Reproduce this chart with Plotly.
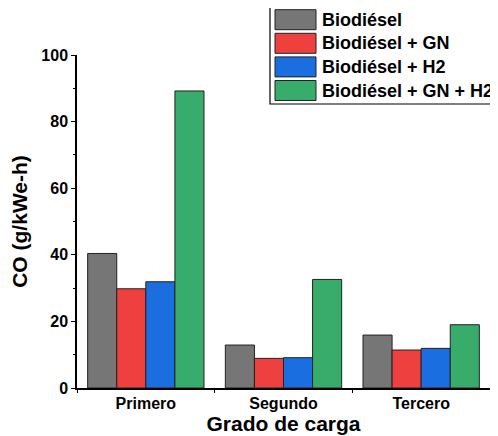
import plotly.graph_objects as go

categories = ["Primero", "Segundo", "Tercero"]
series_names = ["Biodiésel", "Biodiésel + GN", "Biodiésel + H2", "Biodiésel + GN + H2"]
biodiesel = [40.4, 12.9, 15.9]
biodiesel_gn = [29.8, 8.9, 11.4]
biodiesel_h2 = [31.9, 9.1, 11.9]
biodiesel_gn_h2 = [89.2, 32.6, 19.0]
colors = ["#767676", "#EF4040", "#1A6EE0", "#37AC6B"]
y_ticks = [0, 20, 40, 60, 80, 100]

# page body has an 8px default margin, so the figure is shrunk/shifted to match
OFF = 8
W, H = 498 - OFF, 436 - OFF
ML, MT = 77 - OFF, 55 - OFF
PW, PH = 413, 333
MR, MB = W - ML - PW, H - MT - PH

def px2x(px):
    return (px - OFF - ML) / PW

def px2y(py):
    return (MT + PH - (py - OFF)) / PH

font_family = "Liberation Sans, Arial, sans-serif"

fig = go.Figure()
for name, vals, col in zip(series_names, [biodiesel, biodiesel_gn, biodiesel_h2, biodiesel_gn_h2], colors):
    fig.add_trace(go.Bar(x=categories, y=vals, name=name, showlegend=False,
                         marker=dict(color=col, line=dict(color="#222222", width=1))))

# custom legend (large swatches, box clipped at the right edge like the reference)
shapes = [dict(type="rect", xref="paper", yref="paper",
               x0=px2x(270), x1=px2x(530), y0=px2y(104), y1=px2y(5),
               line=dict(color="black", width=1.2), fillcolor="white", layer="above")]
annotations = []
row0, pitch = 19.7, 23.6
for i, (name, col) in enumerate(zip(series_names, colors)):
    cy = row0 + i * pitch
    shapes.append(dict(type="rect", xref="paper", yref="paper",
                       x0=px2x(275), x1=px2x(316), y0=px2y(cy + 10), y1=px2y(cy - 10),
                       line=dict(color="#222222", width=1), fillcolor=col, layer="above"))
    annotations.append(dict(xref="paper", yref="paper", x=px2x(320), y=px2y(cy),
                            xanchor="left", yanchor="middle", text=name, showarrow=False,
                            font=dict(size=18, family=font_family, color="black", weight="bold")))

fig.update_layout(
    width=W, height=H,
    margin=dict(l=ML, r=MR, t=MT, b=MB, autoexpand=False),
    paper_bgcolor="white", plot_bgcolor="white",
    barmode="group", bargap=0.155, bargroupgap=0,
    font=dict(family=font_family, color="black"),
    showlegend=False,
    shapes=shapes, annotations=annotations,
    xaxis=dict(
        range=[-0.5, 2.5], showline=True, linecolor="black", linewidth=1.5,
        ticks="outside", tickson="boundaries", ticklen=3, tickcolor="black",
        tickfont=dict(size=16, weight="bold"), showgrid=False,
        title=dict(text="Grado de carga", font=dict(size=21, weight="bold"), standoff=4),
    ),
    yaxis=dict(
        range=[0, 100], tickvals=y_ticks, showline=True, linecolor="black", linewidth=1.5,
        ticks="outside", ticklen=4, tickcolor="black",
        minor=dict(ticks="outside", ticklen=2, dtick=10, tickcolor="black"),
        tickfont=dict(size=16, weight="bold"), showgrid=False, zeroline=False,
        title=dict(text="CO (g/kWe-h)", font=dict(size=21, weight="bold"), standoff=10),
    ),
)
fig.write_html("out.html")
